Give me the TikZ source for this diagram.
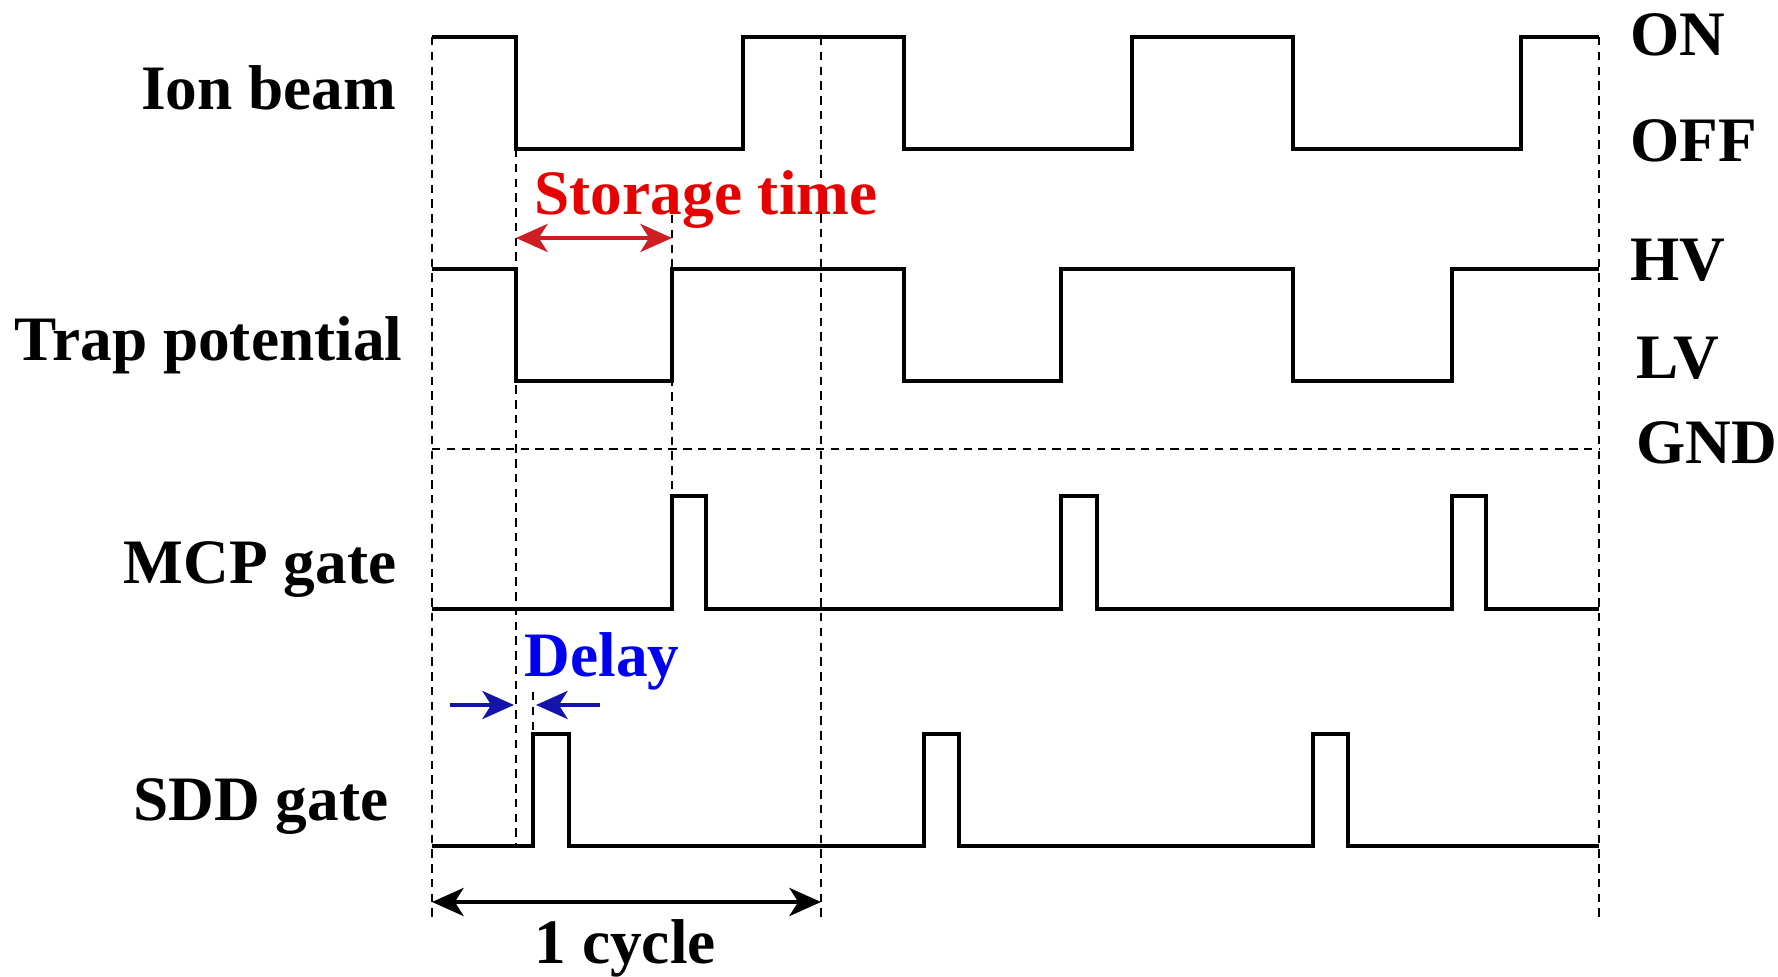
\documentclass[tikz,border=0pt]{standalone}
\usepackage{fontspec}
\setmainfont{Liberation Serif}
\usepackage{xcolor}
\usetikzlibrary{arrows.meta}
\definecolor{stred}{RGB}{230,0,0}
\definecolor{arrred}{RGB}{205,30,35}
\definecolor{dlblue}{RGB}{0,0,240}
\definecolor{arrblue}{RGB}{20,20,170}
\begin{document}
\begin{tikzpicture}[x=0.01cm,y=-0.01cm,
  sig/.style={line width=1.05pt,line join=miter},
  guide/.style={line width=0.7pt,dash pattern=on 2.4pt off 1.8pt},
  lbl/.style={inner sep=0pt,font=\fontsize{18}{20}\selectfont\bfseries},
  dim/.style={line width=1pt,{Stealth[length=9pt,width=8pt,inset=2.5pt]}-{Stealth[length=9pt,width=8pt,inset=2.5pt]}},
  half/.style={line width=1pt,-{Stealth[length=9pt,width=8pt,inset=2.5pt]}}]
\useasboundingbox (0,0) rectangle (1778,977);
% guide lines
\draw[guide] (432,37)--(432,919);
\draw[guide] (1599,37)--(1599,919);
\draw[guide] (821,37)--(821,919);
\draw[guide] (516,149)--(516,846);
\draw[guide] (672,215)--(672,496);
\draw[guide] (533,692)--(533,734);
\draw[guide] (432,449)--(1599,449);
% signals
\draw[sig] (432,37)--(516,37)--(516,149)--(743,149)--(743,37)--(904,37)--(904,149)--(1132,149)--(1132,37)--(1293,37)--(1293,149)--(1521,149)--(1521,37)--(1599,37);
\draw[sig] (432,269)--(516,269)--(516,381)--(672,381)--(672,269)--(904,269)--(904,381)--(1061,381)--(1061,269)--(1293,269)--(1293,381)--(1452,381)--(1452,269)--(1599,269);
\draw[sig] (432,609)--(672,609)--(672,496)--(706,496)--(706,609)--(1061,609)--(1061,496)--(1097,496)--(1097,609)--(1452,609)--(1452,496)--(1486,496)--(1486,609)--(1599,609);
\draw[sig] (432,846)--(533,846)--(533,734)--(569,734)--(569,846)--(924,846)--(924,734)--(959,734)--(959,846)--(1313,846)--(1313,734)--(1348,734)--(1348,846)--(1599,846);
% row labels
\node[lbl,anchor=base east] (ion) at (397,110) {Ion beam};
\node[lbl,anchor=base east] (trap) at (403,361) {Trap potential};
\node[lbl,anchor=base east] (mcp) at (397,584) {MCP gate};
\node[lbl,anchor=base east] (sdd) at (389,821) {SDD gate};
% level labels
\node[lbl,anchor=base west] (on) at (1630,56) {ON};
\node[lbl,anchor=base west] (off) at (1630,162) {OFF};
\node[lbl,anchor=base west] (hv) at (1630,281) {HV};
\node[lbl,anchor=base west] (lv) at (1636,379) {LV};
\node[lbl,anchor=base west] (gnd) at (1636,464) {GND};
% storage time
\coordinate (st1) at (516,238);
\coordinate (st2) at (672,238);
\draw[dim,arrred] (st1)--(st2);
\node[lbl,stred,anchor=base west] (stor) at (534,215) {Storage time};
% delay
\coordinate (dl1) at (450,705);
\coordinate (dl2) at (514,705);
\coordinate (dl3) at (600,705);
\coordinate (dl4) at (536,705);
\draw[half,arrblue] (dl1)--(dl2);
\draw[half,arrblue] (dl3)--(dl4);
\node[lbl,dlblue,anchor=base west] (delay) at (524,677) {Delay};
% cycle
\coordinate (cy1) at (432,902);
\coordinate (cy2) at (821,902);
\draw[dim] (cy1)--(cy2);
\node[lbl,anchor=base west] (cyc) at (534,964) {1 cycle};
\end{tikzpicture}
\end{document}
